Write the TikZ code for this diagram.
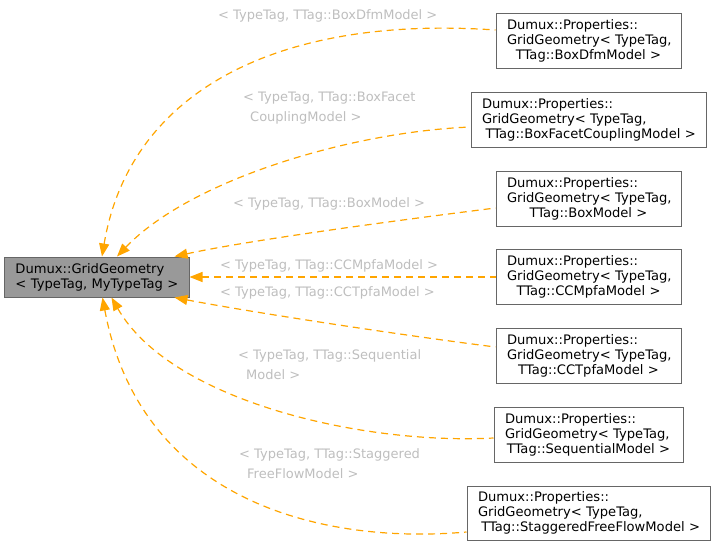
\documentclass[tikz,border=0pt]{standalone}
\usepackage{fontspec}
\setmainfont{DejaVu Sans}
\usetikzlibrary{arrows.meta}
\definecolor{edgeorange}{HTML}{FFA500}
\definecolor{boxborder}{HTML}{666666}
\definecolor{mainfill}{HTML}{999999}
\definecolor{labelgrey}{HTML}{BEBEBE}
\newcommand{\lineL}[1]{\mbox{#1}}
\newcommand{\lineC}[1]{\makebox[\hsize]{#1}}
\tikzset{
  boxfont/.style={font=\fontsize{13.1}{15}\selectfont},
  childbox/.style={draw=boxborder, line width=1pt, fill=white, boxfont,
    inner xsep=11pt, inner ysep=0pt, align=left, text=black},
  mainbox/.style={draw=boxborder, line width=1pt, fill=mainfill, boxfont,
    inner xsep=11pt, inner ysep=0pt, align=left, text=black},
  edgelabel/.style={font=\fontsize{13}{20}\selectfont, text=labelgrey,
    inner sep=0pt, anchor=west, align=left},
  inherit/.style={draw=edgeorange, line width=1.2pt, dash pattern=on 7pt off 5pt,
    {Triangle[length=13pt,width=10pt,fill=edgeorange]}-}
}
\begin{document}
\begin{tikzpicture}[x=1pt,y=-1pt]
\useasboundingbox (0,0) rectangle (716,546);

% main node
\node[mainbox, minimum width=184.5pt, text width=162.5pt, minimum height=40pt] (main) at (96.75,277)
  {\lineL{Dumux::GridGeometry}\\\lineL{< TypeTag, MyTypeTag >}};

% child nodes
\node[childbox, minimum width=185pt, text width=163pt, minimum height=55pt] (c1) at (588.5,40.5)
  {\lineL{Dumux::Properties::}\\\lineL{GridGeometry< TypeTag,}\\\lineC{TTag::BoxDfmModel >}};
\node[childbox, minimum width=235pt, text width=213pt, minimum height=55pt] (c2) at (588.5,119.5)
  {\lineL{Dumux::Properties::}\\\lineL{GridGeometry< TypeTag,}\\\lineC{\ TTag::BoxFacetCouplingModel >}};
\node[childbox, minimum width=185pt, text width=163pt, minimum height=55pt] (c3) at (588.5,198.5)
  {\lineL{Dumux::Properties::}\\\lineL{GridGeometry< TypeTag,}\\\lineC{TTag::BoxModel >}};
\node[childbox, minimum width=185pt, text width=163pt, minimum height=55pt] (c4) at (588.5,276.5)
  {\lineL{Dumux::Properties::}\\\lineL{GridGeometry< TypeTag,}\\\lineC{TTag::CCMpfaModel >}};
\node[childbox, minimum width=185pt, text width=163pt, minimum height=55pt] (c5) at (588.5,356)
  {\lineL{Dumux::Properties::}\\\lineL{GridGeometry< TypeTag,}\\\lineC{TTag::CCTpfaModel >}};
\node[childbox, minimum width=189pt, text width=167pt, minimum height=55pt] (c6) at (588.5,434.5)
  {\lineL{Dumux::Properties::}\\\lineL{GridGeometry< TypeTag,}\\\lineC{TTag::SequentialModel >}};
\node[childbox, minimum width=243pt, text width=221pt, minimum height=54pt] (c7) at (588.5,513)
  {\lineL{Dumux::Properties::}\\\lineL{GridGeometry< TypeTag,}\\\lineC{\ TTag::StaggeredFreeFlowModel >}};

% connectors
\draw[inherit] ([xshift=98pt]main.north west) .. controls (130,90) and (280,15) .. ([yshift=10.5pt]c1.west);
\draw[inherit] ([xshift=113pt]main.north west) .. controls (190,180) and (350,132) .. ([yshift=-7.5pt]c2.west);
\draw[inherit] ([xshift=170.5pt]main.north west) .. controls (250,240) and (400,220) .. ([yshift=-9.5pt]c3.west);
\draw[inherit] (main.east) -- (main.east -| c4.west);
\draw[inherit] ([xshift=170.5pt]main.south west) .. controls (250,312) and (400,335) .. ([yshift=9pt]c5.west);
\draw[inherit] ([xshift=107.5pt]main.south west) .. controls (170,400) and (360,445) .. ([yshift=-3.5pt]c6.west);
\draw[inherit] ([xshift=98.5pt]main.south west) .. controls (140,500) and (320,545) .. ([yshift=-19pt]c7.west);

% labels
\node[edgelabel] (l1) at (218,16) {< TypeTag, TTag::BoxDfmModel >};
\node[edgelabel] (l2) at (243,108) {< TypeTag, TTag::BoxFacet\\\hspace*{7pt}CouplingModel >};
\node[edgelabel] (l3) at (233,204) {< TypeTag, TTag::BoxModel >};
\node[edgelabel] (l4) at (220,266) {< TypeTag, TTag::CCMpfaModel >};
\node[edgelabel] (l5) at (220,293) {< TypeTag, TTag::CCTpfaModel >};
\node[edgelabel] (l6) at (238,365) {< TypeTag, TTag::Sequential\\\hspace*{8pt}Model >};
\node[edgelabel] (l7) at (239,464) {< TypeTag, TTag::Staggered\\\hspace*{8pt}FreeFlowModel >};
\end{tikzpicture}
\end{document}
